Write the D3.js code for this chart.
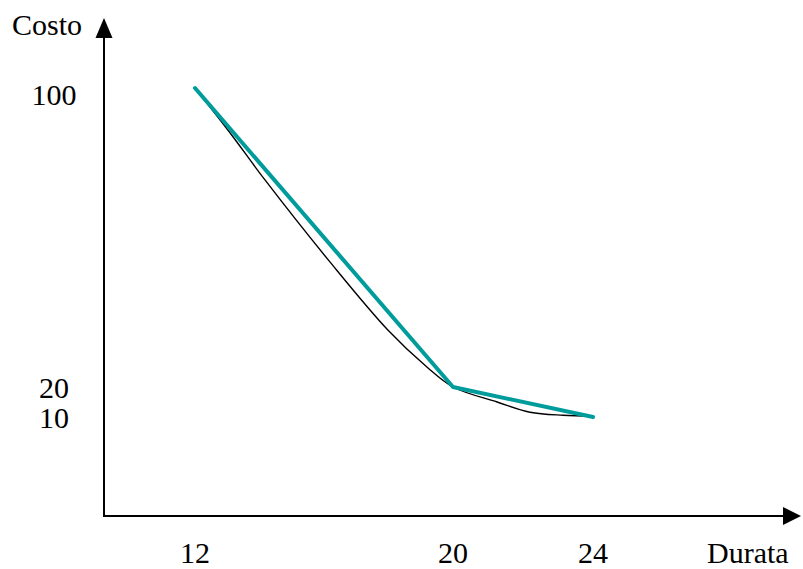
<!DOCTYPE html>
<html>
<head>
<meta charset="utf-8">
<script src="https://cdn.jsdelivr.net/npm/d3@7"></script>
<style>
  html, body { margin: 0; padding: 0; background: #fff; }
  svg { display: block; }
  text { font-family: "Liberation Serif", "Times New Roman", serif; font-size: 30px; fill: #000; }
</style>
</head>
<body>
<script>
// ---- data ----
const xTicks = [12, 20, 24];
const yTicks = [10, 20, 100];
const xLabel = "Durata";
const yLabel = "Costo";
// piecewise linear (teal) cost function
const linearX = [12, 20, 24];
const linearY = [100, 20, 10];
// smooth (black) cost curve
const curveX = [12, 13.09, 14.17, 16.19, 17.98, 19.19, 20, 21.26, 22.2, 23.14, 24];
const curveY = [100, 87.96, 75.4, 53.4, 35.25, 25.35, 20, 15.0, 11.6, 10.6, 10.33];

const W = 803, H = 569;
const svg = d3.select("body").append("svg").attr("width", W).attr("height", H);

// schematic (non-uniform) scales
const x = d3.scaleLinear().domain([12, 20, 24]).range([195, 453, 593]);
const y = d3.scaleLinear().domain([10, 20, 100]).range([417, 387, 88]);

const originX = 104, originY = 516;

// axes with arrows
svg.append("line").attr("x1", originX).attr("y1", originY + 1).attr("x2", originX).attr("y2", 36)
  .attr("stroke", "#000").attr("stroke-width", 2);
svg.append("path").attr("d", `M${originX},18 L${originX - 8.5},38 L${originX + 8.5},38 Z`).attr("fill", "#000");
svg.append("line").attr("x1", originX - 1).attr("y1", originY).attr("x2", 785).attr("y2", originY)
  .attr("stroke", "#000").attr("stroke-width", 2);
svg.append("path").attr("d", `M801,${originY} L783,${originY - 9} L783,${originY + 9} Z`).attr("fill", "#000");

// axis titles
svg.append("text").attr("x", 12).attr("y", 35).text(yLabel);
svg.append("text").attr("x", 707).attr("y", 563).text(xLabel);

// tick labels
svg.selectAll(".xt").data(xTicks).enter().append("text")
  .attr("x", d => x(d)).attr("y", 563).attr("text-anchor", "middle").text(d => d);
svg.selectAll(".yt").data(yTicks).enter().append("text")
  .attr("x", 54).attr("y", d => y(d)).attr("dy", d => d === 100 ? "0.58em" : "0.35em")
  .attr("text-anchor", "middle").text(d => d);

// smooth black curve
const curveData = curveX.map((v, i) => [v, curveY[i]]);
svg.append("path").datum(curveData)
  .attr("d", d3.line().x(d => x(d[0])).y(d => y(d[1])).curve(d3.curveCatmullRom.alpha(0.5)))
  .attr("fill", "none").attr("stroke", "#000").attr("stroke-width", 1.4);

// teal piecewise line
const linData = linearX.map((v, i) => [v, linearY[i]]);
svg.append("path").datum(linData)
  .attr("d", d3.line().x(d => x(d[0])).y(d => y(d[1])))
  .attr("fill", "none").attr("stroke", "#009c9c").attr("stroke-width", 4)
  .attr("stroke-linecap", "round").attr("stroke-linejoin", "round");
</script>
</body>
</html>
